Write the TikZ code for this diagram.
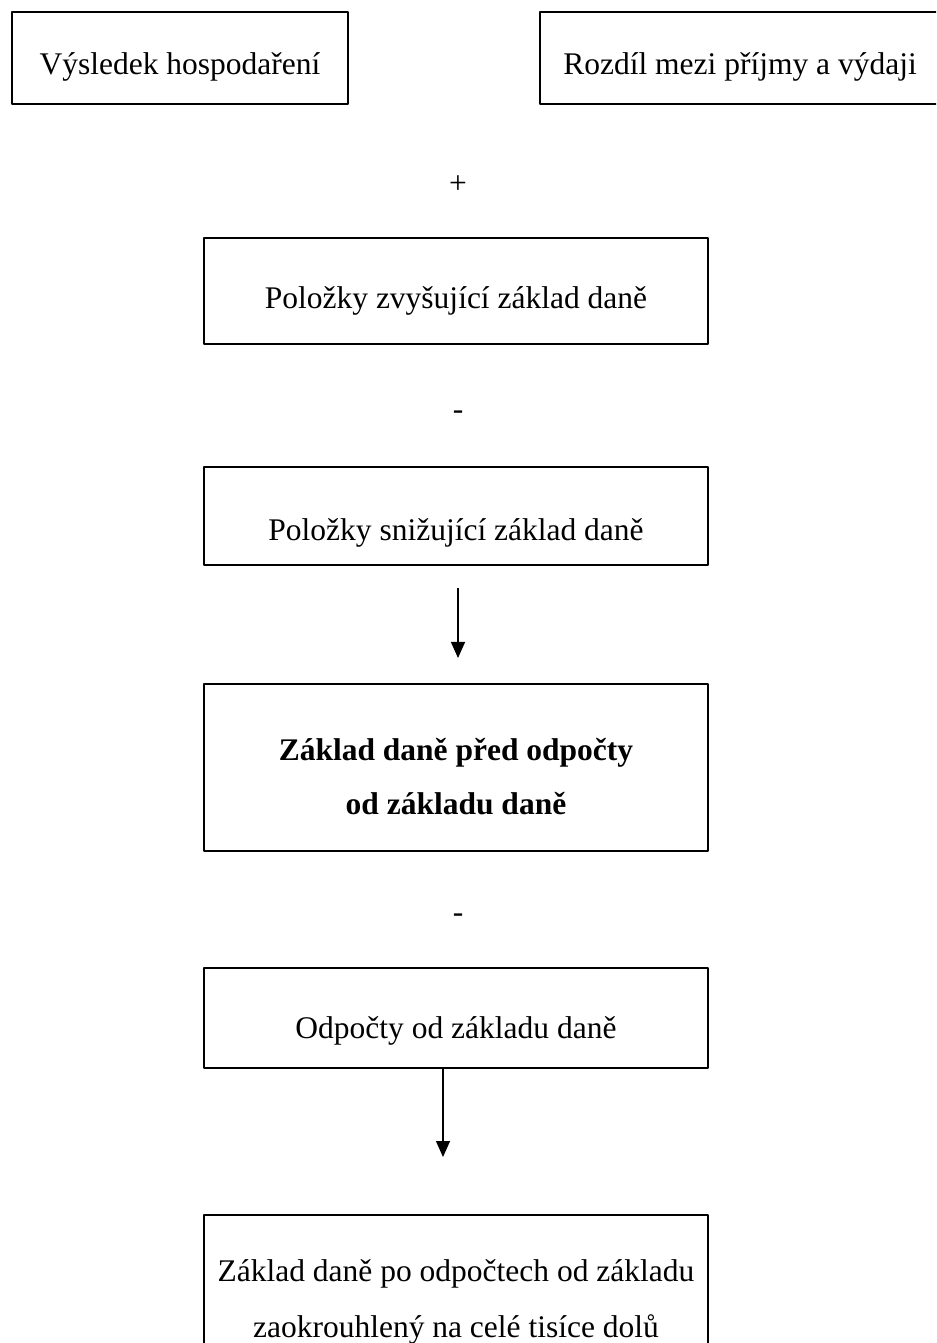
\documentclass[tikz,border=0pt]{standalone}
\usepackage{fontspec}
\setmainfont{Liberation Serif}
\usetikzlibrary{arrows.meta}
\begin{document}
\begin{tikzpicture}[x=0.4pt, y=-0.4pt, font=\fontsize{12.6}{15}\selectfont, line join=round,
		>={Triangle[length=6.4pt,width=5.6pt]},
		box/.style={draw, line width=0.8pt, inner xsep=0pt, inner ysep=0pt, align=flush center},
		arr/.style={->, line width=0.5pt}]
	\def\xc{456}
	\useasboundingbox (0,0) rectangle (936,1343);
	\clip (0,0) rectangle (936,1343);
	% top row
	\node[box, minimum width=134.4pt, text height=25.2pt, text depth=11.6pt] (vh) at (180,58) {Výsledek hospodaření};
	\node[box, minimum width=160pt, text height=25.2pt, text depth=11.6pt] (rpv) at (740,58) {Rozdíl mezi příjmy a výdaji};
	\node (plus) at (458,185) {+};
	% column
	\node[box, minimum width=201.6pt, text height=28.4pt, text depth=14pt] (zvys) at (\xc,291) {Položky zvyšující základ daně};
	\node (minusa) at (458,415) {-};
	\node[box, minimum width=201.6pt, text height=29.2pt, text depth=10pt] (sniz) at (\xc,516) {Položky snižující základ daně};
	\node[box, text width=201.6pt, text height=30.4pt, text depth=36.4pt,
		font=\fontsize{12.6}{21.6}\selectfont\bfseries] (zdpo) at (\xc,767.5) {Základ daně před odpočty\\od základu daně};
	\node (minusb) at (458,918) {-};
	\node[box, minimum width=201.6pt, text height=28pt, text depth=12pt] (odp) at (\xc,1018) {Odpočty od základu daně};
	\node[box, text width=201.6pt, text height=26.4pt, text depth=43.6pt,
		font=\fontsize{12.6}{22.4}\selectfont] (zdpoz) at (\xc,1302.5) {Základ daně po odpočtech od základu\\zaokrouhlený na celé tisíce dolů};
	% arrows
	\draw[arr, shorten <=8.8pt, shorten >=10pt] ([xshift=0.8pt]sniz.south) -- ([xshift=0.8pt]zdpo.north);
	\draw[arr, shorten >=22.8pt] ([xshift=-5.2pt]odp.south) -- ([xshift=-5.2pt]zdpoz.north);
\end{tikzpicture}
\end{document}
